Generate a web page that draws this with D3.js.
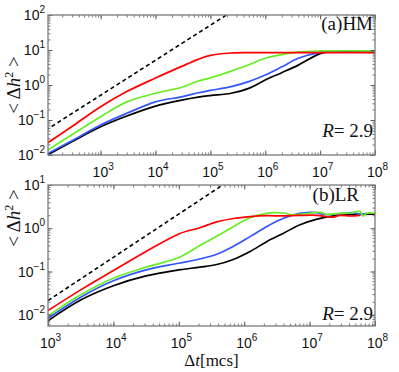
<!DOCTYPE html>
<html><head><meta charset="utf-8">
<script src="https://cdn.jsdelivr.net/npm/d3@7"></script>
<style>body{margin:0;background:#fff}svg{display:block}</style>
</head><body>
<svg id="chart" width="399" height="372"></svg>
<script>
// ---------- (a) HM panel data ----------
const hmT     = [105, 300, 1e3, 3e3, 1e4, 3e4, 6e4, 1e5, 2.4e5, 5e5, 1e6, 2e6, 4e6, 1e7, 2e7, 5e7, 1e8];
const hmRed   = [0.0215, 0.065, 0.24, 0.65, 1.58, 3.4, 5.4, 7.0, 8.2, 8.4, 8.4, 8.4, 8.4, 8.4, 8.4, 8.4, 8.4];
const hmGreen = [0.0133, 0.038, 0.124, 0.33, 0.58, 0.86, 1.3, 1.6, 2.5, 3.8, 5.8, 7.4, 8.8, 9.4, 9.5, 9.5, 9.5];
const hmBlue  = [0.0107, 0.0256, 0.072, 0.155, 0.33, 0.46, 0.6, 0.7, 0.9, 1.25, 1.93, 3.3, 5.8, 8.6, 9.3, 9.4, 9.4];
const hmBlack = [0.0098, 0.024, 0.064, 0.13, 0.25, 0.37, 0.45, 0.5, 0.58, 0.8, 1.39, 2.25, 3.7, 7.9, 9.2, 9.4, 9.4];
const hmDashT = [100, 2.1e5];
const hmDash  = [0.051, 107];

// ---------- (b) LR panel data ----------
const lrT       = [1e3, 3.16e3, 1e4, 3.16e4, 1e5, 2.1e5, 3.8e5, 6.8e5, 1.23e6, 2.2e6, 4e6, 7e6, 1.26e7, 2.3e7, 4e7, 1e8];
const lrBlack   = [0.0073, 0.022, 0.047, 0.079, 0.109, 0.126, 0.145, 0.19, 0.29, 0.49, 0.77, 1.19, 1.6, 1.93, 2.06, 2.12];
const lrRedT    = [1e3, 3.16e3, 1e4, 3.16e4, 1e5, 2.1e5, 3.8e5, 6.8e5, 1.23e6, 2.2e6, 4e6, 7e6, 1.3e7, 1.8e7, 2.3e7, 2.9e7, 4.2e7, 5.9e7];
const lrRed     = [0.0125, 0.0376, 0.105, 0.29, 0.74, 1.03, 1.4, 1.68, 1.86, 1.95, 1.93, 1.98, 1.99, 1.86, 1.8, 1.99, 1.92, 1.99];
const lrGreenT  = [1e3, 3.16e3, 1e4, 3.16e4, 1e5, 2.1e5, 3.8e5, 6.8e5, 1.23e6, 2.2e6, 2.8e6, 4e6, 5.6e6, 7e6, 1e7, 1.45e7, 1.8e7, 2.9e7, 4.2e7, 5.9e7, 6.6e7, 7.4e7, 1e8];
const lrGreen   = [0.0094, 0.029, 0.07, 0.126, 0.21, 0.4, 0.65, 1.09, 1.75, 2.2, 2.3, 2.25, 2.03, 2.1, 2.22, 2.34, 2.1, 2.22, 2.25, 2.42, 1.92, 2.22, 2.22];
const lrBlueT   = [1e3, 3.16e3, 1e4, 3.16e4, 1e5, 2.1e5, 3.8e5, 6.8e5, 1.23e6, 2.2e6, 4e6, 7e6, 1e7, 1.3e7, 1.6e7, 2.3e7, 3.2e7, 4.7e7, 5.9e7, 7.4e7];
const lrBlue    = [0.0083, 0.0255, 0.061, 0.109, 0.155, 0.195, 0.25, 0.38, 0.64, 1.09, 1.7, 2.2, 2.34, 2.3, 2.1, 2.1, 2.22, 2.3, 2.07, 2.22];
const lrDashT   = [1e3, 6e5];
const lrDash    = [0.0213, 12.8];

// ---------- ticks / labels ----------
const xTickExps   = [3, 4, 5, 6, 7, 8];
const hmYTickExps = [-2, -1, 0, 1, 2];
const lrYTickExps = [-2, -1, 0, 1];
const seriesColors = {red: "#ff0000", green: "#66ee22", blue: "#3355ff", black: "#000000"};
const panelTags = ["(a)HM", "(b)LR"];
const rText = "= 2.9";
const xLabel = "[mcs]";

const svg = d3.select("#chart");
const L = 48, R = 375;

function minorTicks(domain) {
  const out = [];
  const lo = Math.floor(Math.log10(domain[0])), hi = Math.ceil(Math.log10(domain[1]));
  for (let e = lo; e <= hi; e++) for (let m = 1; m <= 9; m++) {
    const v = m * Math.pow(10, e);
    if (v >= domain[0] * 0.999 && v <= domain[1] * 1.001) out.push(v);
  }
  return out;
}

function drawPanel(cfg) {
  const x = d3.scaleLog().domain(cfg.xd).range([L, R]);
  const y = d3.scaleLog().domain(cfg.yd).range([cfg.bottom, cfg.top]);
  const g = svg.append("g");
  const cid = "clip" + cfg.id;
  g.append("clipPath").attr("id", cid).append("rect")
    .attr("x", L).attr("y", cfg.top).attr("width", R - L).attr("height", cfg.bottom - cfg.top);

  const line = d3.line().x(d => x(d[0])).y(d => y(d[1])).curve(d3.curveCatmullRom.alpha(0.5));
  const lines = g.append("g").attr("clip-path", `url(#${cid})`);
  cfg.series.forEach(s => {
    lines.append("path").datum(d3.zip(s.t, s.v))
      .attr("d", line).attr("fill", "none").attr("stroke", s.color)
      .attr("stroke-width", s.dash ? 1.6 : 1.7)
      .attr("stroke-dasharray", s.dash ? "4,3" : null)
      .attr("stroke-linejoin", "round");
  });

  const majX = xTickExps.map(e => Math.pow(10, e)).filter(v => v >= cfg.xd[0] && v <= cfg.xd[1]);
  const majY = cfg.yExps.map(e => Math.pow(10, e));
  const minX = minorTicks(cfg.xd), minY = minorTicks(cfg.yd);

  const axes = [
    [d3.axisBottom(x), `translate(0,${cfg.bottom})`, majX, minX],
    [d3.axisTop(x), `translate(0,${cfg.top})`, majX, minX],
    [d3.axisLeft(y), `translate(${L},0)`, majY, minY],
    [d3.axisRight(y), `translate(${R},0)`, majY, minY]
  ];
  axes.forEach(([ax, tr, maj, min]) => {
    const gm = g.append("g").attr("transform", tr)
      .call(ax.tickValues(min).tickSize(-2.5).tickFormat(""));
    gm.select(".domain").remove();
    gm.selectAll(".tick line").attr("stroke", "#555").attr("stroke-width", 0.8);
    const gM = g.append("g").attr("transform", tr)
      .call(ax.tickValues(maj).tickSize(-4.5).tickFormat(""));
    gM.select(".domain").remove();
    gM.selectAll(".tick line").attr("stroke", "#555").attr("stroke-width", 0.9);
  });

  g.append("rect").attr("x", L).attr("y", cfg.top).attr("width", R - L).attr("height", cfg.bottom - cfg.top)
    .attr("fill", "none").attr("stroke", "#7a7a7a").attr("stroke-width", 1.3);

  const sans = "Liberation Sans, Arial, sans-serif";
  // x tick labels
  majX.forEach(v => {
    const e = Math.round(Math.log10(v));
    const t = g.append("text").attr("x", x(v) - 8).attr("y", cfg.bottom + 22)
      .attr("font-family", sans).attr("font-size", 14).attr("fill", "#111");
    t.append("tspan").text("10");
    t.append("tspan").attr("dy", -7).attr("font-size", 10).text(String(e).replace("-", "\u2212"));
  });
  // y tick labels
  majY.forEach(v => {
    const e = Math.round(Math.log10(v));
    const t = g.append("text").attr("x", 45).attr("y", y(v) + 5).attr("text-anchor", "end")
      .attr("font-family", sans).attr("font-size", 14).attr("fill", "#111");
    t.append("tspan").text("10");
    t.append("tspan").attr("dy", -7).attr("font-size", 10).text(String(e).replace("-", "\u2212"));
  });

  const serif = "Liberation Serif, Times New Roman, serif";
  g.append("text").attr("x", cfg.tagX).attr("y", cfg.tagY).attr("text-anchor", "end")
    .attr("font-family", serif).attr("font-size", 19).attr("fill", "#111").text(cfg.tag);

  const rt = g.append("text").attr("x", 373).attr("y", cfg.rY).attr("text-anchor", "end")
    .attr("font-family", serif).attr("font-size", 19).attr("fill", "#111");
  rt.append("tspan").attr("font-style", "italic").text("R");
  rt.append("tspan").text(rText);

  const yl = g.append("text").attr("transform", `translate(20,${cfg.ylabY}) rotate(-90)`)
    .attr("text-anchor", "middle").attr("font-family", serif).attr("font-size", 19).attr("fill", "#111");
  yl.append("tspan").text("< \u0394");
  yl.append("tspan").attr("font-style", "italic").text("h");
  yl.append("tspan").attr("dy", -7).attr("font-size", 12).text("2");
  yl.append("tspan").attr("dy", 7).text(" >");
}

drawPanel({
  id: "a", xd: [110, 1e8], yd: [0.01, 100], top: 15, bottom: 155, yExps: hmYTickExps,
  tag: panelTags[0], tagX: 373, tagY: 30, rY: 137, ylabY: 85,
  series: [
    {t: hmDashT, v: hmDash, color: "#000", dash: true},
    {t: hmT, v: hmBlack, color: seriesColors.black},
    {t: hmT, v: hmBlue, color: seriesColors.blue},
    {t: hmT, v: hmGreen, color: seriesColors.green},
    {t: hmT, v: hmRed, color: seriesColors.red}
  ]
});
drawPanel({
  id: "b", xd: [1e3, 1e8], yd: [0.0055, 10], top: 185, bottom: 326, yExps: lrYTickExps,
  tag: panelTags[1], tagX: 359, tagY: 201, rY: 320, ylabY: 218,
  series: [
    {t: lrDashT, v: lrDash, color: "#000", dash: true},
    {t: lrT, v: lrBlack, color: seriesColors.black},
    {t: lrBlueT, v: lrBlue, color: seriesColors.blue},
    {t: lrGreenT, v: lrGreen, color: seriesColors.green},
    {t: lrRedT, v: lrRed, color: seriesColors.red}
  ]
});

// x axis label
const xl = svg.append("text").attr("x", 211.5).attr("y", 366).attr("text-anchor", "middle")
  .attr("font-family", "Liberation Serif, Times New Roman, serif").attr("font-size", 17).attr("fill", "#111");
xl.append("tspan").text("\u0394");
xl.append("tspan").attr("font-style", "italic").text("t");
xl.append("tspan").text(xLabel);
</script>
</body></html>
